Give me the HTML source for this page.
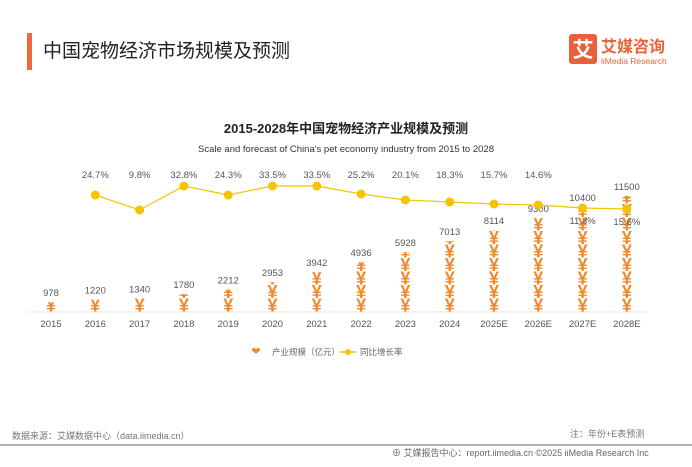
<!DOCTYPE html>
<html><head><meta charset="utf-8"><style>
body{margin:0;background:#fff;font-family:"Liberation Sans","Noto Sans CJK SC",sans-serif;}
</style></head><body>
<svg width="692" height="462" xmlns="http://www.w3.org/2000/svg" font-family="Liberation Sans, Noto Sans CJK SC, sans-serif">
<defs id="defs"></defs>
<rect x="27" y="33" width="5" height="37" fill="#ec6a3c"/>
<text x="43" y="57" font-size="19" fill="#222">中国宠物经济市场规模及预测</text>
<rect x="569" y="34" width="28" height="30" rx="3" fill="#e8613a"/>
<text x="583" y="57" text-anchor="middle" font-size="21" font-weight="bold" fill="#fff">艾</text>
<text x="601" y="52" font-size="16" font-weight="bold" fill="#e8613a">艾媒咨询</text>
<text x="601" y="64" font-size="8.5" fill="#e8613a">iiMedia Research</text>
<text x="346" y="133" text-anchor="middle" font-size="13" font-weight="bold" fill="#222">2015-2028年中国宠物经济产业规模及预测</text>
<text x="346" y="152" text-anchor="middle" font-size="9.5" fill="#333">Scale and forecast of China's pet economy industry from 2015 to 2028</text>
<line x1="28" y1="312" x2="648" y2="312" stroke="#e6e6e6"/>
<g id="bars"></g>
<g font-size="9.5" fill="#555" text-anchor="middle" id="labels"></g>
<g id="line"></g>
<g font-size="8.5" fill="#666">
<text x="272" y="355">产业规模（亿元）</text>
<text x="360" y="355">同比增长率</text>
</g>
<text x="256" y="355" font-size="11" fill="#f08a2c" text-anchor="middle">❤</text>
<line x1="340" y1="352" x2="356" y2="352" stroke="#f5c400" stroke-width="1.5"/>
<circle cx="348" cy="352" r="3" fill="#f5c400"/>
<text x="12" y="439" font-size="9" fill="#777">数据来源：艾媒数据中心（data.iimedia.cn）</text>
<text x="570" y="437" font-size="9" fill="#777">注：年份+E表预测</text>
<line x1="0" y1="445" x2="692" y2="445" stroke="#999" stroke-width="1.5"/>
<text x="392" y="456" font-size="9" fill="#666">⊕ 艾媒报告中心：report.iimedia.cn    ©2025  iiMedia Research  Inc</text>
</svg>
<script>
var ns="http://www.w3.org/2000/svg";
var yrs=["2015","2016","2017","2018","2019","2020","2021","2022","2023","2024","2025E","2026E","2027E","2028E"];
var v=[978,1220,1340,1780,2212,2953,3942,4936,5928,7013,8114,9300,10400,11500];
var pct=["","24.7%","9.8%","32.8%","24.3%","33.5%","33.5%","25.2%","20.1%","18.3%","15.7%","14.6%","11.8%","15.6%"];
var ly=[0,195,210,186,195,186,186,194,200,202,204,205,208,209];
var b=document.getElementById("bars"),l=document.getElementById("labels"),ln=document.getElementById("line"),d=document.getElementById("defs");
function el(t,a,p,tx){var e=document.createElementNS(ns,t);for(var k in a)e.setAttribute(k,a[k]);if(tx)e.textContent=tx;p.appendChild(e);return e;}
var pts=[];
for(var i=0;i<14;i++){var x=51+i*44.3,h=v[i]*0.0101;
var cp=el("clipPath",{id:"c"+i},d);el("rect",{x:x-12,y:312-h,width:24,height:h},cp);
var g=el("g",{"clip-path":"url(#c"+i+")"},b);
for(var k=0;k*13.5<h;k++){el("text",{x:x,y:312-k*13.5-0.5,"text-anchor":"middle","font-size":18,"font-weight":"bold",fill:"#f08a2c"},g,"¥");}
el("text",{x:x,y:327},l,yrs[i]);
el("text",{x:x,y:312-h-6},l,String(v[i]));
if(i>0){pts.push(x+","+ly[i]);
var py=i>=12?ly[i]+16:178;
el("text",{x:x,y:py},l,pct[i]);}}
el("polyline",{points:pts.join(" "),fill:"none",stroke:"#f5c400","stroke-width":1.2},ln);
pts.forEach(function(p){var s=p.split(",");el("circle",{cx:s[0],cy:s[1],r:4.5,fill:"#f5c400"},ln);});
</script>
</body></html>
